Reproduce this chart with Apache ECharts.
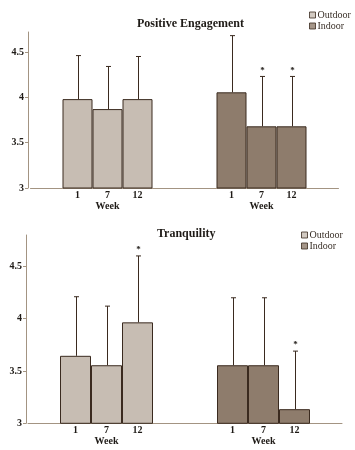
<!DOCTYPE html>
<html>
<head>
<meta charset="utf-8">
<script src="https://cdn.jsdelivr.net/npm/echarts@6/dist/echarts.min.js"></script>
<style>html,body{margin:0;padding:0;background:#fff}#c{width:355px;height:450px}</style>
</head>
<body>
<div id="c"></div>
<script>
// ---- data ----
var weeks = ['1', '7', '12'];
var groups = ['Outdoor', 'Indoor'];
var titles = ['Positive Engagement', 'Tranquility'];
var yTicks = [3, 3.5, 4, 4.5];

var peOutdoorMean  = [3.98, 3.87, 3.98];
var peOutdoorUpper = [4.46, 4.34, 4.45];
var peOutdoorStar  = [0, 0, 0];
var peIndoorMean   = [4.055, 3.68, 3.68];
var peIndoorUpper  = [4.68, 4.23, 4.23];
var peIndoorStar   = [0, 1, 1];

var trOutdoorMean  = [3.645, 3.555, 3.965];
var trOutdoorUpper = [4.21, 4.12, 4.60];
var trOutdoorStar  = [0, 0, 1];
var trIndoorMean   = [3.555, 3.555, 3.135];
var trIndoorUpper  = [4.20, 4.20, 3.69];
var trIndoorStar   = [0, 0, 1];

// ---- styles ----
var FONT = 'Liberation Serif';
var colOut = '#c7bdb3', colIn = '#8e7c6c', edge = '#3a2a1f', axisCol = '#a39482', txt = '#1e1a16';

var panels = [
  {mean: [peOutdoorMean, peIndoorMean], upper: [peOutdoorUpper, peIndoorUpper], star: [peOutdoorStar, peIndoorStar],
   grid: {left: 30.5, top: 32, width: 308, height: 156}, yOff: 2.5, ymax: 4.72, bw: 30,
   title: {left: 132, top: 13}, legend: {left: 304, top: 5}},
  {mean: [trOutdoorMean, trIndoorMean], upper: [trOutdoorUpper, trIndoorUpper], star: [trOutdoorStar, trIndoorStar],
   grid: {left: 28, top: 235, width: 314, height: 188.3}, yOff: 2, ymax: 4.8, bw: 31,
   title: {left: 152, top: 223}, legend: {left: 296, top: 225}}
];

var option = {
  animation: false,
  backgroundColor: '#fff',
  title: [], legend: [], grid: [], xAxis: [], yAxis: [], series: []
};

panels.forEach(function (p, pi) {
  option.title.push({text: titles[pi], left: p.title.left, top: p.title.top,
    textStyle: {fontFamily: FONT, fontSize: 12, fontWeight: 'bold', color: txt}});
  option.legend.push({orient: 'vertical', left: p.legend.left, top: p.legend.top,
    itemWidth: 6, itemHeight: 6, itemGap: 1, icon: 'rect',
    textStyle: {fontFamily: FONT, fontSize: 10, color: '#3a3028', padding: [0, 0, 0, -3]},
    data: [
      {name: groups[0], itemStyle: {color: colOut, borderColor: edge, borderWidth: 1}},
      {name: groups[1], itemStyle: {color: colIn, borderColor: edge, borderWidth: 1}}
    ], selectedMode: false});
  option.grid.push(p.grid);
  option.xAxis.push({type: 'category', gridIndex: pi, data: groups,
    axisLine: {lineStyle: {color: axisCol, width: 1}}, axisTick: {show: false},
    axisLabel: {formatter: function () { return 'Week'; }, margin: 13,
      fontFamily: FONT, fontSize: 10, fontWeight: 'bold', color: txt}});
  option.yAxis.push({type: 'value', gridIndex: pi, min: 3, max: p.ymax, interval: 0.5, offset: p.yOff,
    splitLine: {show: false},
    axisLine: {show: true, lineStyle: {color: axisCol, width: 1}},
    axisTick: {show: true, length: 3, lineStyle: {color: axisCol}},
    axisLabel: {showMaxLabel: false, margin: 4, fontFamily: FONT, fontSize: 10, fontWeight: 'bold', color: txt}});

  weeks.forEach(function (w, wi) {
    option.series.push({type: 'bar', name: 'W' + w + '_' + pi, xAxisIndex: pi, yAxisIndex: pi,
      barWidth: p.bw, barGap: '0%', clip: true,
      data: [p.mean[0][wi], p.mean[1][wi]],
      itemStyle: {color: function (d) { return d.dataIndex === 0 ? colOut : colIn; },
        borderColor: edge, borderWidth: 1},
      label: {show: true, position: 'bottom', distance: 2, formatter: w,
        fontFamily: FONT, fontSize: 10, fontWeight: 'bold', color: txt}
    });
  });

  var eb = [];
  groups.forEach(function (g, gi) {
    weeks.forEach(function (w, wi) {
      eb.push([gi, wi, p.mean[gi][wi], p.upper[gi][wi], p.star[gi][wi]]);
    });
  });
  option.series.push({type: 'custom', xAxisIndex: pi, yAxisIndex: pi, data: eb, z: 5,
    renderItem: (function (bw) {
      return function (params, api) {
        var gi = api.value(0), wi = api.value(1);
        var base = api.coord([gi, api.value(2)]);
        var top = api.coord([gi, api.value(3)]);
        var x = Math.round(base[0] + (wi - 1) * bw) + 0.5;
        var children = [
          {type: 'line', shape: {x1: x, y1: base[1], x2: x, y2: top[1]}, style: {stroke: edge, lineWidth: 1}},
          {type: 'line', shape: {x1: x - 2.5, y1: top[1], x2: x + 2.5, y2: top[1]}, style: {stroke: edge, lineWidth: 1}}
        ];
        if (api.value(4)) {
          children.push({type: 'text', x: x, y: top[1] - 6, style: {text: '*', fontFamily: FONT, fontSize: 9,
            fontWeight: 'bold', fill: txt, align: 'center', verticalAlign: 'middle'}});
        }
        return {type: 'group', children: children};
      };
    })(p.bw)
  });
});

// legend-only series
option.series.push({type: 'scatter', name: groups[0], data: [], xAxisIndex: 0, yAxisIndex: 0, itemStyle: {color: colOut}});
option.series.push({type: 'scatter', name: groups[1], data: [], xAxisIndex: 0, yAxisIndex: 0, itemStyle: {color: colIn}});

var chart = echarts.init(document.getElementById('c'), null, {renderer: 'canvas'});
chart.setOption(option);
</script>
</body>
</html>
